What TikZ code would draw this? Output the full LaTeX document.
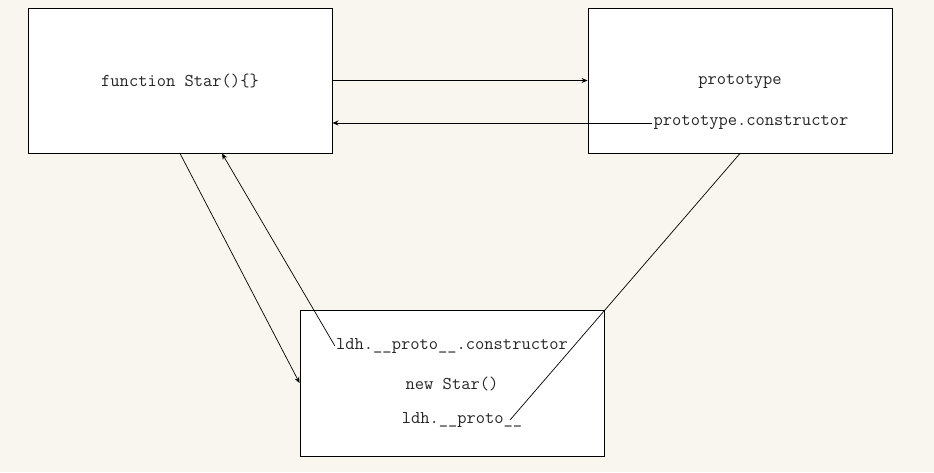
\documentclass[tikz,border=0pt]{standalone}
\usepackage{fontspec}
\usetikzlibrary{arrows.meta,calc}
\definecolor{bgcream}{HTML}{F9F6EF}
\tikzset{
  box/.style={draw=black, fill=white, line width=0.9pt, minimum width=304pt, minimum height=145pt, inner sep=0pt},
  lbl/.style={font=\ttfamily\fontsize{18}{20}\selectfont, inner sep=1pt, text=black!85},
  conn/.style={line width=0.7pt, -{Stealth[length=6pt,width=5pt]}},
  plain/.style={line width=0.7pt}
}
\begin{document}
\begin{tikzpicture}[x=1pt,y=-1pt]
\fill[bgcream] (0,0) rectangle (934,472);
\useasboundingbox (0,0) rectangle (934,472);
\node[box] (A) at (180,80.5) {};
\node[box] (B) at (740,80.5) {};
\node[box, minimum height=146pt] (C) at (452,383) {};
\node[lbl] (fs) at (180,81) {function Star()\{\}};
\node[lbl] (pt) at (740,82) {prototype};
\node[lbl] (pc) at (751,123) {prototype.constructor};
\node[lbl] (lc) at (452,346) {ldh.\_\_proto\_\_.constructor};
\node[lbl] (ns) at (452,384) {new Star()};
\node[lbl] (lp) at (462,420) {ldh.\_\_proto\_\_};
\coordinate (aret) at (A.east |- pc.west);
\coordinate (abot) at ($(A.south)+(42,0)$);
\coordinate (lpend) at (510,420);
\draw[conn, line width=1pt] (A.east) -- (B.west);
\draw[conn, line width=1pt] (pc.west) -- (aret);
\draw[conn] (A.south) -- (C.west);
\draw[conn] (lc.west) -- (abot);
\draw[plain] (B.south) -- (lpend);
\end{tikzpicture}
\end{document}
